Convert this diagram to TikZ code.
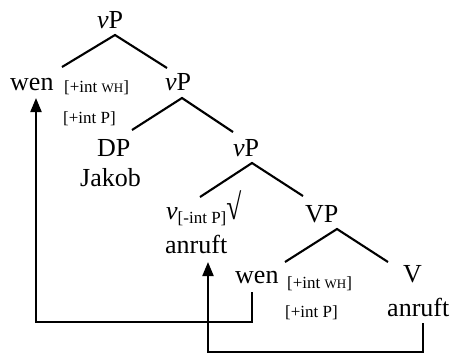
\documentclass[tikz,border=0pt]{standalone}
\usepackage{fontspec}
\usepackage{graphicx}
\setmainfont{Liberation Serif}
\usetikzlibrary{arrows.meta}
\newcommand\smwh{{\fontsize{13}{14}\selectfont WH}}
\begin{document}
\begin{tikzpicture}[x=1pt,y=-1pt,
  lab/.style={inner sep=0pt, anchor=base west, font=\fontsize{26}{28}\selectfont},
  feat/.style={inner sep=0pt, anchor=base west, font=\fontsize{17}{19}\selectfont},
  branch/.style={line width=2.1pt},
  move/.style={line width=2.1pt, -{Triangle[width=11pt,length=14pt]}}]
\useasboundingbox (0,0) rectangle (454,354);
\fill[white] (0,0) rectangle (454,354);

% labels of the tree
\node[lab]  (vp1)     at (97,28)   {\textit{v}P};
\node[lab]  (wen1)    at (10,90)   {wen};
\node[feat] (wh1)     at (64,92)   {[+int \smwh]};
\node[feat] (p1)      at (63,123)  {[+int P]};
\node[lab]  (vp2)     at (165,90)  {\textit{v}P};
\node[lab]  (dp)      at (97,156)  {DP};
\node[lab]  (jakob)   at (80,186)  {Jakob};
\node[lab]  (vp3)     at (233,156) {\textit{v}P};
\node[lab]  (vhead)   at (166,219) {\textit{v}{\fontsize{17}{19}\selectfont\raisebox{-4pt}{[-int P]}}\raisebox{0pt}{\scalebox{1.05}[1.4]{√}}};
\node[lab]  (anruft1) at (165,253) {anruft};
\node[lab]  (VP)      at (305,222) {VP};
\node[lab]  (wen2)    at (235,283) {wen};
\node[feat] (wh2)     at (287,288) {[+int \smwh]};
\node[feat] (p2)      at (285,317) {[+int P]};
\node[lab]  (V)       at (403,282) {V};
\node[lab]  (anruft2) at (387,316) {anruft};

% branch end points
\coordinate (vp1b) at (115,35);
\coordinate (wen1t) at (62,67);
\coordinate (vp2t) at (167,68);
\coordinate (vp2b) at (182,98);
\coordinate (dpt) at (132,130);
\coordinate (vp3t) at (233,132);
\coordinate (vp3b) at (252,163);
\coordinate (vht) at (200,197);
\coordinate (VPt) at (303,196);
\coordinate (VPb) at (337,229);
\coordinate (wen2t) at (285,262);
\coordinate (Vt) at (388,262);

\draw[branch] (wen1t) -- (vp1b) -- (vp2t);
\draw[branch] (dpt) -- (vp2b) -- (vp3t);
\draw[branch] (vht) -- (vp3b) -- (VPt);
\draw[branch] (wen2t) -- (VPb) -- (Vt);

% movement paths
\coordinate (wen2f) at (252,292);
\coordinate (tip1) at (36,98);
\coordinate (vf) at (423,323);
\coordinate (tip2) at (208,262);
\draw[move] (wen2f) |- (36,322) -- (tip1);
\draw[move] (vf) |- (208,352) -- (tip2);
\end{tikzpicture}
\end{document}
